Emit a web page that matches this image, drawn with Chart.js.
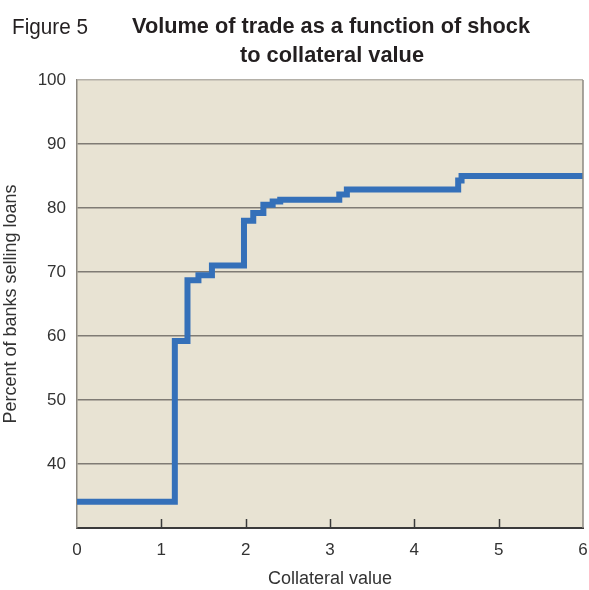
<!DOCTYPE html>
<html>
<head>
<meta charset="utf-8">
<script src="https://cdn.jsdelivr.net/npm/chart.js@4/dist/chart.umd.min.js"></script>
<style>
  html, body { margin: 0; padding: 0; background: #fff; }
  #wrap { position: relative; width: 589px; height: 590px; }
</style>
</head>
<body>
<div id="wrap"><canvas id="tradeChart" width="589" height="590"></canvas></div>
<script>
'use strict';

// shock to collateral value (x) and share of banks selling loans (y)
var collateral = [0, 1.16, 1.31, 1.44, 1.60, 1.98, 2.09, 2.21, 2.32, 2.41, 3.11, 3.20, 4.52, 4.56, 6];
var percentBanks = [34.1, 59.2, 68.7, 69.5, 71.0, 78.0, 79.2, 80.5, 81.0, 81.3, 82.1, 82.9, 84.3, 85.0, 85.0];
var xTicks = [0, 1, 2, 3, 4, 5, 6];
var yTicks = [40, 50, 60, 70, 80, 90, 100];

var figLabel = 'Figure 5';
var titleLines = ['Volume of trade as a function of shock', 'to collateral value'];

var FONT = "'Liberation Sans', Arial, sans-serif";

var points = collateral.map(function (x, i) {
  return { x: x, y: percentBanks[i] };
});

// draw text squeezed to a given width (the original uses a condensed face)
function squeezeText(ctx, text, x, y, width, align) {
  var w = ctx.measureText(text).width;
  var k = Math.min(1, width / w);
  ctx.save();
  ctx.translate(x, y);
  ctx.scale(k, 1);
  ctx.textAlign = align;
  ctx.fillText(text, 0, 0);
  ctx.restore();
}

// plot background, frame, inward ticks and figure headings
var frame = {
  id: 'frame',
  beforeDraw: function (chart) {
    var a = chart.chartArea, ctx = chart.ctx;
    ctx.save();
    ctx.fillStyle = '#e8e3d3';
    ctx.fillRect(a.left, a.top, a.right - a.left, a.bottom - a.top);
    ctx.restore();
  },
  afterDraw: function (chart) {
    var ctx = chart.ctx, xs = chart.scales.x, a = chart.chartArea;
    ctx.save();
    ctx.strokeStyle = '#8c8880';
    ctx.lineWidth = 1.5;
    ctx.beginPath();
    ctx.moveTo(a.right, a.top);
    ctx.lineTo(a.right, a.bottom);
    ctx.stroke();

    ctx.strokeStyle = '#3a3a3a';
    ctx.lineWidth = 1.5;
    xTicks.forEach(function (t) {
      if (t === 0 || t === 6) return;
      var px = Math.round(xs.getPixelForValue(t)) + 0.5;
      ctx.beginPath();
      ctx.moveTo(px, a.bottom);
      ctx.lineTo(px, a.bottom - 9);
      ctx.stroke();
    });

    ctx.fillStyle = '#231f20';
    ctx.textBaseline = 'alphabetic';
    ctx.font = '22px ' + FONT;
    squeezeText(ctx, figLabel, 12, 34, 76, 'left');
    ctx.font = 'bold 22px ' + FONT;
    squeezeText(ctx, titleLines[0], 331, 33, 398, 'center');
    squeezeText(ctx, titleLines[1], 332, 62, 184, 'center');
    ctx.restore();
  }
};

var ctx = document.getElementById('tradeChart').getContext('2d');
new Chart(ctx, {
  type: 'line',
  data: {
    datasets: [{
      data: points,
      stepped: true,
      borderColor: '#3470b9',
      borderWidth: 6,
      borderJoinStyle: 'miter',
      pointRadius: 0,
      fill: false
    }]
  },
  options: {
    responsive: false,
    animation: false,
    layout: { padding: { top: 80, right: 6, left: 0, bottom: 0 } },
    plugins: {
      legend: { display: false },
      tooltip: { enabled: false }
    },
    scales: {
      x: {
        type: 'linear',
        min: 0,
        max: 6,
        afterBuildTicks: function (scale) {
          scale.ticks = xTicks.map(function (v) { return { value: v }; });
        },
        afterFit: function (scale) {
          scale.height = 62;
          scale.paddingLeft = 0;
          scale.paddingRight = 0;
        },
        grid: { display: false, drawTicks: false },
        border: { display: true, color: '#3a3a3a', width: 2 },
        ticks: {
          padding: 12,
          color: '#333',
          font: { family: FONT, size: 17 },
          maxRotation: 0
        },
        title: {
          display: true,
          text: 'Collateral value',
          color: '#333',
          font: { family: FONT, size: 18 },
          padding: { top: 6, bottom: 0 }
        }
      },
      y: {
        min: 30,
        max: 100,
        afterBuildTicks: function (scale) {
          scale.ticks = [30].concat(yTicks).map(function (v) { return { value: v }; });
        },
        afterFit: function (scale) {
          scale.width = 77;
          scale.paddingTop = 0;
          scale.paddingBottom = 0;
        },
        grid: {
          drawTicks: false,
          lineWidth: 1.5,
          color: function (c) {
            if (c.tick && c.tick.value === 30) return 'rgba(0,0,0,0)';
            if (c.tick && c.tick.value === 100) return '#b4b0a8';
            return '#7f7b74';
          }
        },
        border: { display: true, color: '#8c8880', width: 1.5 },
        ticks: {
          padding: 11,
          color: '#333',
          font: { family: FONT, size: 17 },
          callback: function (v) { return v === 30 ? '' : v; }
        },
        title: {
          display: true,
          text: 'Percent of banks selling loans',
          color: '#333',
          font: { family: FONT, size: 18 },
          padding: { top: 0, bottom: 4 }
        }
      }
    }
  },
  plugins: [frame]
});
</script>
</body>
</html>
